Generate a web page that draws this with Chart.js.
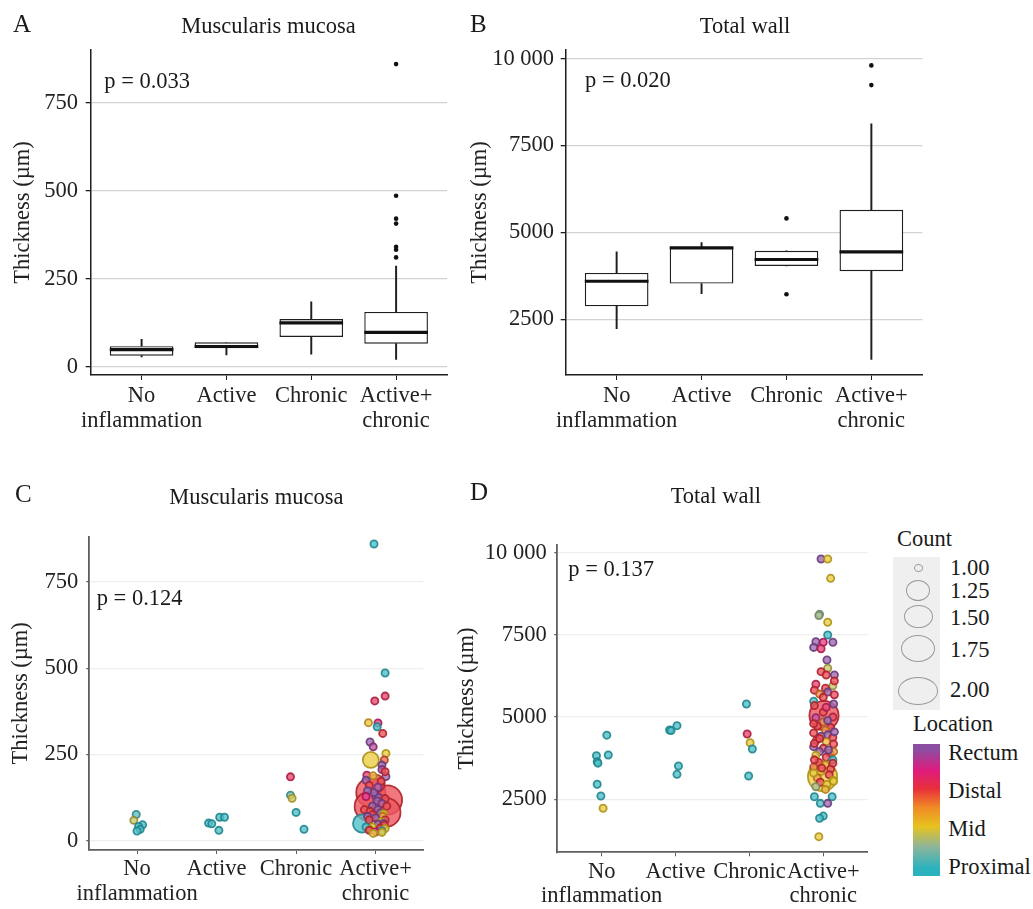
<!DOCTYPE html>
<html><head><meta charset="utf-8">
<script src="https://cdn.jsdelivr.net/npm/chart.js@4.4.1/dist/chart.umd.min.js"></script>
<style>
html,body{margin:0;padding:0;background:#fff;width:1033px;height:909px;overflow:hidden;}
body{position:relative;font-family:'Liberation Serif','Times New Roman',serif;color:#1a1a1a;}
canvas{position:absolute;}
.t{position:absolute;white-space:nowrap;line-height:1;}
.ring{position:absolute;border:1.5px solid #9a9a9a;border-radius:50%;box-sizing:border-box;}
</style></head><body>
<canvas id="cA" width="460" height="440" style="left:0px;top:0px"></canvas>
<canvas id="cB" width="480" height="440" style="left:460px;top:0px"></canvas>
<canvas id="cC" width="460" height="439" style="left:0px;top:470px"></canvas>
<canvas id="cD" width="440" height="439" style="left:444px;top:470px"></canvas>
<div id="overlay"></div>
<script>
// ---------------- DATA ----------------
const categories = ['No inflammation', 'Active', 'Chronic', 'Active+ chronic'];
const xTickValues = [1, 2, 3, 4];

// A: Muscularis mucosa (box plot)
const mmTicks = [0, 250, 500, 750];
const mmTickLabels = ['0', '250', '500', '750'];
const mmLow    = [28, 34, 36, 21];
const mmQ1     = [32, 53, 85, 66];
const mmMedian = [49, 58, 125, 98];
const mmQ3     = [59, 70, 136, 156];
const mmHigh   = [78, 70, 185, 286];
const mmOutlierCat = [4, 4, 4, 4, 4, 4, 4];
const mmOutlierVal = [860, 486, 421, 407, 341, 333, 311];

// B: Total wall (box plot)
const twTicks = [2500, 5000, 7500, 10000];
const twTickLabels = ['2500', '5000', '7500', '10 000'];
const twLow    = [2233, 3242, 4038, 1347];
const twQ1     = [2876, 3530, 4038, 3885];
const twMedian = [3597, 4557, 4223, 4442];
const twQ3     = [3836, 4586, 4471, 5653];
const twHigh   = [4442, 4712, 4471, 8125];
const twOutlierCat = [3, 3, 4, 4];
const twOutlierVal = [5405, 3222, 9807, 9240];

// C: Muscularis mucosa points  [jitter, thickness, count, location(1=Proximal..4=Rectum)]
const mmPtsNoInfl = [[-0.01,76,1,1.1],[-0.04,59,1,1.8],[0.07,46,1,1],[0.02,41,1,1],[0.04,33,1,1],[0.0,28,1,1]];
const mmPtsActive = [[-0.1,51,1,1],[-0.06,49,1,1],[0.04,68,1,1],[0.1,68,1,1],[0.03,30,1,1]];
const mmPtsChronic = [[-0.07,185,1,3.2],[-0.07,132,1,1.2],[-0.05,123,1,1.9],[0.0,82,1,1],[0.1,33,1,1]];
const mmPtsActChr = [
  [-0.02,860,1,1],[0.12,486,1,1],[0.12,419,1,3.2],[-0.01,405,1,3.2],[-0.09,342,1,2.1],[0.03,341,1,3.4],
  [0.02,330,1,1],[0.09,311,1,3],[-0.07,286,1,4],[-0.03,272,1,3.8],[0.13,253,1,2],[-0.06,234,1.4,2],
  [0.11,234,1,2.8],[0.08,219,1,4],[0.08,206,1,3.9],[-0.11,190,1,3.3],[-0.03,188,1,2.2],[0.13,186,1,4],
  [0.12,200,1,3],[-0.12,175,1,4],[0.0,165,1.5,3],[0.07,172,1,3],[-0.08,160,1,3],
  [-0.06,140,2,3],[0.15,118,2,3],[-0.08,99,2,3],[0.13,82,2,3],
  [0.0,130,1,4],[0.04,125,1,3.9],[-0.02,140,1,4],[0.03,155,1,3.9],[-0.1,145,1,4],[0.12,122,1,3],[-0.12,128,1,3.5],
  [0.02,115,1,4],[0.08,108,1,3.9],[-0.04,100,1,4],[0.14,100,1,3],[0.03,90,1,4],[-0.14,90,1,3],
  [-0.07,85,1,3],[0.06,80,1,4],[-0.04,75,1,3],[0.1,78,1,2],[0.09,70,1,2.5],[-0.1,70,1,4],[0.0,66,1,4],
  [-0.08,60,1,3],[0.12,60,1,3],[0.07,55,1,2],[-0.17,50,1.5,1],[0.03,48,1,4],[0.1,50,1,4],[0.11,45,1,3],
  [-0.04,40,1,2],[-0.12,40,1,1],[0.06,36,1,3],[0.12,35,1,2],[-0.07,32,1,2.2],[0.08,28,1,1],[-0.08,30,1,3],
  [0.0,25,1,3.5],[0.08,24,1,2],[-0.03,21,1,2]
];

// D: Total wall points  [jitter, thickness, count, location]
const twPtsNoInfl = [[0.07,4450,1,1],[-0.07,3826,1,1],[0.09,3847,1,1],[-0.06,3644,1,1],[-0.05,3600,1,1],[-0.06,2956,1,1],[-0.01,2600,1,1],[0.02,2226,1,2]];
const twPtsActive = [[-0.08,4607,1,1],[-0.06,4590,1,1],[0.02,4739,1,1],[0.04,3513,1,1],[0.02,3260,1,1]];
const twPtsChronic = [[-0.04,5398,1,1],[-0.03,4486,1,3.2],[0.01,4221,1,2],[0.04,4030,1,1],[-0.01,3209,1,1]];
const twPtsActChr = [
  [-0.03,9808,1,4],[0.06,9808,1,2],[0.10,9221,1,2],[-0.05,8126,1,1.5],[-0.06,8090,1,1.6],[0.06,7883,1,2],
  [0.06,7497,1,1],[-0.10,7293,1,4],[0.0,7277,1,3.4],[0.13,7277,1,4],[-0.13,7120,1,4],[-0.03,7080,1,3.3],
  [0.05,6737,1,4],[0.06,6486,1,1.8],[-0.03,6381,1,3],[0.04,6280,1,3],[0.15,6280,1,4],[-0.10,6000,1,3.2],
  [0.13,5950,1,1.8],[0.03,5876,1,3],[-0.12,5820,1,3],[0.06,5760,1,4],[-0.05,5700,1,2.6],[0.15,5680,1,3.1],
  [0.0,5600,1,3],[-0.13,5480,1,1],[0.01,5050,2,3],[0.0,5150,1,3],[0.13,5000,1,3.1],[-0.10,4980,1,3.7],
  [0.0,4850,1,2.6],[-0.08,4720,1,3],[0.10,4680,1,3],[0.03,4600,1,2.5],[-0.13,4520,1,3],[0.06,4460,1,4],
  [-0.03,4420,1,4],[0.13,4380,1,3],[-0.09,4300,1,3],[0.04,4250,1,2.2],[0.14,4180,1,3],[-0.13,4100,1,4],
  [0.0,4050,1,3],[-0.05,3950,1,4],[0.09,3900,1,3],[-0.10,3840,1,2],[0.04,3780,1,3],[0.13,3700,1,1],
  [-0.06,3620,1,3],[0.03,3550,1,2.2],[-0.13,3480,1,2.7],[0.10,3420,1,3],[-0.03,3350,1,2],[-0.01,3190,2,2],
  [0.08,3250,1,3],[-0.08,3150,1,2.5],[0.13,3080,1,2],[-0.04,3020,1,3],[0.05,2950,1,2],[-0.10,2880,1,1.6],
  [0.03,2800,1,2.2],[-0.12,2579,1,1],[0.12,2579,1,1],[-0.04,2376,1,1],[0.06,2376,1,4],[0.0,1990,1,1],
  [-0.05,1922,1,1],[-0.06,1363,1,2],
  [0.15,6100,1,3],[-0.12,5350,1,3],[0.14,5400,1,4],[-0.13,4800,1,3],[0.15,4550,1,4],[-0.12,4200,1,3],
  [0.14,3950,1,2.5],[-0.12,3700,1,3],[0.13,3600,1,3],[-0.13,3300,1,2],[0.14,3050,1,2],[0.06,4900,1,4],
  [-0.05,4350,1,3],[0.07,4000,1,4],[-0.02,3450,1,3],[0.04,5300,1,3.3]
];

// Legends
const countLevels = ['1.00', '1.25', '1.50', '1.75', '2.00'];
const locationLabels = ['Rectum', 'Distal', 'Mid', 'Proximal'];
const locStops  = [1, 1.5, 2, 2.5, 3, 3.5, 4];
const locColors = ['#2bb3bd', '#8cb59b', '#e7c21f', '#f08a26', '#e8303a', '#df1b7d', '#8b4ea2'];

// ---------------- HELPERS ----------------
const FONT = "'Liberation Serif', 'Times New Roman', serif";
const INK = '#1f1f1f';
function hexRgb(h){ const n = parseInt(h.slice(1),16); return [(n>>16)&255,(n>>8)&255,n&255]; }
function locRgb(l){
  l = Math.max(locStops[0], Math.min(locStops[locStops.length-1], l));
  let i = 0; while (i < locStops.length-2 && l > locStops[i+1]) i++;
  const t = (l - locStops[i]) / (locStops[i+1] - locStops[i]);
  const a = hexRgb(locColors[i]), b = hexRgb(locColors[i+1]);
  return a.map((v,k) => v + (b[k]-v)*t);
}
function mix(c, w, f){ return c.map((v,k)=> Math.round(v + (w[k]-v)*f)); }
function fillFor(l){ const c = mix(locRgb(l),[255,255,255],0.18); return `rgba(${c[0]},${c[1]},${c[2]},0.8)`; }
function strokeFor(l){ const c = mix(locRgb(l),[0,0,0],0.25); return `rgba(${c[0]},${c[1]},${c[2]},0.9)`; }

function yScale(geo, range, ticks, labels, gridColor, borderColor, borderWidth, tickLen){
  return {
    type:'linear', min:range[0], max:range[1], bounds:'data',
    afterFit: s => { s.width = geo.L - geo.left; },
    afterBuildTicks: s => { s.ticks = ticks.map(v => ({value:v})); },
    ticks:{ callback: v => labels[ticks.indexOf(v)], font:{family:FONT,size:22.5}, color:'#222', padding: geo.yTickPad },
    grid:{ color:gridColor, lineWidth:1.3, tickColor:borderColor, tickLength:tickLen, drawTicks:true },
    border:{ display:true, color:borderColor, width:borderWidth },
    title:{ display:true, text:'Thickness (µm)', font:{family:FONT,size:22.5}, color:'#222', padding:{top:geo.titlePad,bottom:0} }
  };
}
function xScale(geo, borderColor, borderWidth, tickLen){
  return {
    type:'linear', min:0.4, max:4.6, bounds:'data', offset:false,
    afterFit: s => { s.height = geo.top + geo.h - geo.B; },
    afterBuildTicks: s => { s.ticks = xTickValues.map(v => ({value:v})); },
    ticks:{ callback: v => categories[xTickValues.indexOf(v)].split(' '), autoSkip:false, maxRotation:0, minRotation:0,
            font:{family:FONT,size:22.5,lineHeight:1.1}, color:'#222', padding:geo.xTickPad },
    grid:{ drawOnChartArea:false, drawTicks:true, tickLength:tickLen, tickColor:borderColor, offset:false },
    border:{ display:true, color:borderColor, width:borderWidth }
  };
}
function layoutPad(geo){ return {left:0, top:geo.T - geo.top, right:geo.left + geo.w - geo.R, bottom:0}; }

function boxChart(id, geo, range, ticks, labels, lo, q1, med, q3, hi, outCat, outVal){
  const pxPerUnit = c => c.chart.scales.x.getPixelForValue(2) - c.chart.scales.x.getPixelForValue(1);
  new Chart(document.getElementById(id), {
    type:'bar',
    data:{ datasets:[
      { type:'scatter', data: med.map((v,i)=>({x:xTickValues[i], y:v})), pointStyle:'line',
        pointRadius: c => 0.375*pxPerUnit(c), pointBorderColor:'#111', pointBorderWidth:3.2, order:0 },
      { type:'scatter', data: outVal.map((v,i)=>({x:outCat[i], y:v})), pointRadius:2.3,
        pointBackgroundColor:'#111', pointBorderWidth:0, order:0 },
      { type:'bar', data: q1.map((v,i)=>({x:xTickValues[i], y:[v, q3[i]]})), backgroundColor:'#fff',
        borderColor:INK, borderWidth:1.4, borderSkipped:false, barPercentage:0.75, categoryPercentage:1, grouped:false, order:1 },
      { type:'bar', data: lo.map((v,i)=>({x:xTickValues[i], y:[v, q1[i]]})), backgroundColor:INK,
        borderWidth:0, barThickness:1.3, grouped:false, order:2 },
      { type:'bar', data: q3.map((v,i)=>({x:xTickValues[i], y:[v, hi[i]]})), backgroundColor:INK,
        borderWidth:0, barThickness:1.3, grouped:false, order:2 }
    ]},
    options:{
      responsive:false, animation:false, events:[],
      layout:{ padding: layoutPad(geo) },
      plugins:{ legend:{display:false}, tooltip:{enabled:false} },
      scales:{
        x: xScale(geo, INK, 1.5, 5),
        y: yScale(geo, range, ticks, labels, '#d2d2d2', INK, 1.5, 5)
      }
    }
  });
}

function dotChart(id, geo, range, ticks, labels, groups){
  const pts = [];
  groups.forEach((g, ci) => g.forEach(p => pts.push({x: xTickValues[ci] + p[0], y: p[1], count: p[2], loc: p[3]})));
  pts.sort((a, b) => b.count - a.count);
  new Chart(document.getElementById(id), {
    type:'scatter',
    data:{ datasets:[{
      data: pts,
      pointRadius: c => c.raw ? 3.6 + (c.raw.count - 1) * 11 : 3.6,
      pointBackgroundColor: c => c.raw ? fillFor(c.raw.loc) : '#ccc',
      pointBorderColor: c => c.raw ? strokeFor(c.raw.loc) : '#999',
      pointBorderWidth: 1.8
    }]},
    options:{
      responsive:false, animation:false, events:[],
      layout:{ padding: layoutPad(geo) },
      plugins:{ legend:{display:false}, tooltip:{enabled:false} },
      scales:{
        x: xScale(geo, '#5e5e5e', 1.8, 4),
        y: yScale(geo, range, ticks, labels, '#eeeeee', '#5e5e5e', 1.8, 3)
      }
    }
  });
}

// ---------------- CHARTS ----------------
const geoA = {left:0,   top:0,   w:460, h:440, L:90.7,  T:50,    R:447,   B:375,   titlePad:9.5, yTickPad:7.7, xTickPad:4};
const geoB = {left:460, top:0,   w:480, h:440, L:565.7, T:50,    R:922.3, B:375,   titlePad:6.5, yTickPad:6.7, xTickPad:4};
const geoC = {left:0,   top:470, w:460, h:439, L:89.3,  T:536.7, R:423.3, B:850,   titlePad:7.5, yTickPad:8,   xTickPad:3};
const geoD = {left:444, top:470, w:440, h:439, L:557.3, T:545,   R:874.3, B:852.3, titlePad:9.5, yTickPad:7.6, xTickPad:3};

boxChart('cA', geoA, [-23, 900], mmTicks, mmTickLabels, mmLow, mmQ1, mmMedian, mmQ3, mmHigh, mmOutlierCat, mmOutlierVal);
boxChart('cB', geoB, [900, 10250], twTicks, twTickLabels, twLow, twQ1, twMedian, twQ3, twHigh, twOutlierCat, twOutlierVal);
dotChart('cC', geoC, [-27, 881], mmTicks, mmTickLabels, [mmPtsNoInfl, mmPtsActive, mmPtsChronic, mmPtsActChr]);
dotChart('cD', geoD, [888, 10234], twTicks, twTickLabels, [twPtsNoInfl, twPtsActive, twPtsChronic, twPtsActChr]);

// ---------------- TEXT & LEGEND ----------------
const ov = document.getElementById('overlay');
function txt(s, x, capY, size, center){
  const d = document.createElement('div');
  d.className = 't'; d.textContent = s;
  d.style.fontSize = size + 'px';
  d.style.top = (capY - size*0.5) + 'px';
  d.style.left = x + 'px';
  if (center) d.style.transform = 'translateX(-50%)';
  ov.appendChild(d);
}
// panel letters
txt('A', 13, 23.7, 25); txt('B', 470, 23.3, 25); txt('C', 15, 493, 25); txt('D', 470, 491.5, 25);
// titles
txt('Muscularis mucosa', 268.5, 25.8, 22.5, true);
txt('Total wall', 745, 26, 22.5, true);
txt('Muscularis mucosa', 256.3, 497.5, 22.5, true);
txt('Total wall', 715.8, 496.7, 22.5, true);
// p values
txt('p = 0.033', 104.3, 81.7, 22.5);
txt('p = 0.020', 585, 80, 22.5);
txt('p = 0.124', 96.7, 598, 22.5);
txt('p = 0.137', 568.3, 569, 22.5);

// Count legend
txt('Count', 897, 538.8, 22.5);
const box = document.createElement('div');
box.style.cssText = 'position:absolute;left:893px;top:557px;width:47px;height:153px;background:#efefef;';
ov.appendChild(box);
const ringW = [9, 24, 29, 34, 40], ringH = [8, 21, 23, 27, 28], ringY = [568, 590.7, 616.7, 648.3, 690.7];
const labY = [568.3, 591.7, 618.3, 650.7, 690.7];
countLevels.forEach((lab, i) => {
  const r = document.createElement('div');
  r.className = 'ring';
  r.style.left = (918 - ringW[i]/2) + 'px'; r.style.top = (ringY[i] - ringH[i]/2) + 'px';
  r.style.width = ringW[i] + 'px'; r.style.height = ringH[i] + 'px';
  ov.appendChild(r);
  txt(lab, 950, labY[i], 22.5);
});
// Location legend
txt('Location', 913, 724, 22.5);
const bar = document.createElement('div');
const gradPos = [94, 78, 62.5, 48, 34, 20, 4];
bar.style.cssText = 'position:absolute;left:913px;top:744px;width:27px;height:132px;background:linear-gradient(to bottom,' +
  locColors.map((c, i) => c + ' ' + gradPos[i] + '%').reverse().join(',') + ');';
ov.appendChild(bar);
const locLabY = [753, 791, 829, 867];
locationLabels.forEach((l, i) => txt(l, 948.3, locLabY[i], 22.5));
</script>
</body></html>
